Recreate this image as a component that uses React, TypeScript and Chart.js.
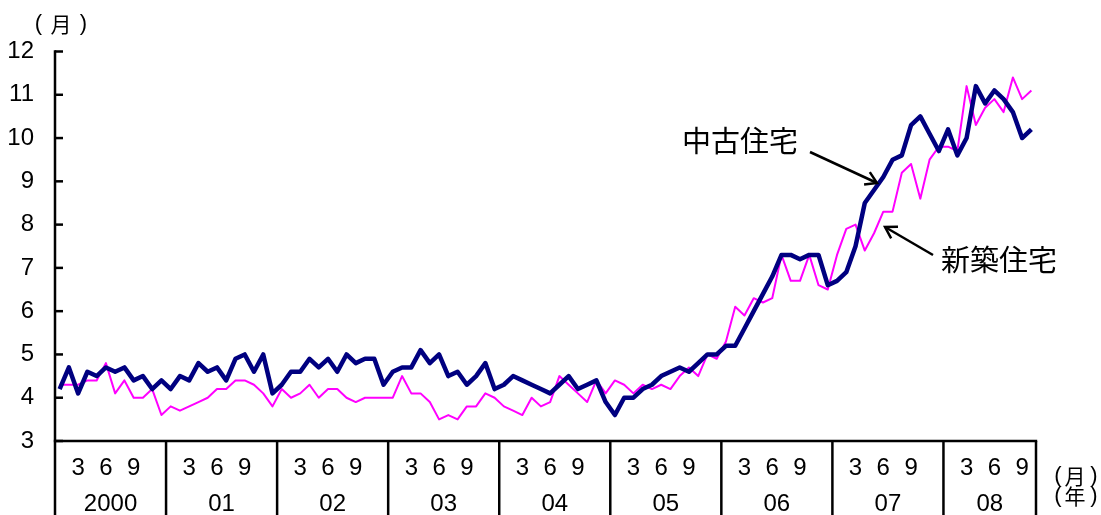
import React, { useEffect, useRef } from "react";
import { Chart, registerables } from "chart.js";

Chart.register(...registerables);

// ---- categories ----
const years = ["2000", "01", "02", "03", "04", "05", "06", "07", "08"];
const fullYears = [2000, 2001, 2002, 2003, 2004, 2005, 2006, 2007, 2008];
const monthsPerYear = [12, 12, 12, 12, 12, 12, 12, 12, 10];
const monthTickLabels = ["3", "6", "9"];
const yTicks = [3, 4, 5, 6, 7, 8, 9, 10, 11, 12];

const categories: string[] = [];
fullYears.forEach((yr, k) => {
  for (let m = 1; m <= monthsPerYear[k]; m++) categories.push(`${yr}-${m}`);
});

// ---- series (months) ----
// 中古住宅
const usedHomes = [
  4.2, 4.7, 4.1, 4.6, 4.5, 4.7, 4.6, 4.7, 4.4, 4.5, 4.2, 4.4,
  4.2, 4.5, 4.4, 4.8, 4.6, 4.7, 4.4, 4.9, 5.0, 4.6, 5.0, 4.1,
  4.3, 4.6, 4.6, 4.9, 4.7, 4.9, 4.6, 5.0, 4.8, 4.9, 4.9, 4.3,
  4.6, 4.7, 4.7, 5.1, 4.8, 5.0, 4.5, 4.6, 4.3, 4.5, 4.8, 4.2,
  4.3, 4.5, 4.4, 4.3, 4.2, 4.1, 4.3, 4.5, 4.2, 4.3, 4.4, 3.9,
  3.6, 4.0, 4.0, 4.2, 4.3, 4.5, 4.6, 4.7, 4.6, 4.8, 5.0, 5.0,
  5.2, 5.2, 5.6, 6.0, 6.4, 6.8, 7.3, 7.3, 7.2, 7.3, 7.3, 6.6,
  6.7, 6.9, 7.5, 8.5, 8.8, 9.1, 9.5, 9.6, 10.3, 10.5, 10.1, 9.7,
  10.2, 9.6, 10.0, 11.2, 10.8, 11.1, 10.9, 10.6, 10.0, 10.2,
];
// 新築住宅
const newHomes = [
  4.3, 4.3, 4.3, 4.4, 4.4, 4.8, 4.1, 4.4, 4.0, 4.0, 4.2, 3.6,
  3.8, 3.7, 3.8, 3.9, 4.0, 4.2, 4.2, 4.4, 4.4, 4.3, 4.1, 3.8,
  4.2, 4.0, 4.1, 4.3, 4.0, 4.2, 4.2, 4.0, 3.9, 4.0, 4.0, 4.0,
  4.0, 4.5, 4.1, 4.1, 3.9, 3.5, 3.6, 3.5, 3.8, 3.8, 4.1, 4.0,
  3.8, 3.7, 3.6, 4.0, 3.8, 3.9, 4.5, 4.3, 4.1, 3.9, 4.4, 4.1,
  4.4, 4.3, 4.1, 4.3, 4.2, 4.3, 4.2, 4.5, 4.7, 4.5, 5.0, 4.9,
  5.3, 6.1, 5.9, 6.3, 6.2, 6.3, 7.3, 6.7, 6.7, 7.3, 6.6, 6.5,
  7.3, 7.9, 8.0, 7.4, 7.8, 8.3, 8.3, 9.2, 9.4, 8.6, 9.5, 9.8,
  9.8, 9.7, 11.2, 10.3, 10.7, 10.9, 10.6, 11.4, 10.9, 11.1,
];

const LATIN = "'Liberation Sans', Arial, 'Noto Sans CJK JP', sans-serif";
const CJK = "'Noto Sans CJK JP', 'Liberation Sans', sans-serif";

function drawArrow(ctx: CanvasRenderingContext2D, x1: number, y1: number, x2: number, y2: number) {
  ctx.beginPath();
  ctx.moveTo(x1, y1);
  ctx.lineTo(x2, y2);
  ctx.stroke();
  const a = Math.atan2(y2 - y1, x2 - x1);
  const len = 13;
  const spread = 0.55;
  ctx.beginPath();
  ctx.moveTo(x2 - len * Math.cos(a - spread), y2 - len * Math.sin(a - spread));
  ctx.lineTo(x2, y2);
  ctx.lineTo(x2 - len * Math.cos(a + spread), y2 - len * Math.sin(a + spread));
  ctx.stroke();
}

const tablePlugin = {
  id: "tableAxis",
  afterDraw(chart: any) {
    const { ctx, chartArea, scales } = chart;
    const xs = scales.x;
    const ys = scales.y;
    const L = chartArea.left;
    const R = chartArea.right;
    const B = chartArea.bottom;
    const H = chart.height;
    ctx.save();
    ctx.strokeStyle = "#000";
    ctx.fillStyle = "#000";
    ctx.lineWidth = 2.5;
    ctx.lineCap = "butt";

    // y axis line extended into the table
    ctx.beginPath();
    ctx.moveTo(L, ys.getPixelForValue(12) - 1.2);
    ctx.lineTo(L, H);
    ctx.stroke();
    // inward tick marks
    yTicks.forEach((v) => {
      const py = ys.getPixelForValue(v);
      ctx.beginPath();
      ctx.moveTo(L, py);
      ctx.lineTo(L + 8, py);
      ctx.stroke();
    });
    // x axis line
    ctx.beginPath();
    ctx.moveTo(L - 1.2, B);
    ctx.lineTo(R + 1.2, B);
    ctx.stroke();

    const half = (xs.getPixelForValue(1) - xs.getPixelForValue(0)) / 2;
    let idx = 0;
    ctx.textAlign = "center";
    ctx.textBaseline = "middle";
    years.forEach((yr, k) => {
      const n = monthsPerYear[k];
      const start = xs.getPixelForValue(idx) - half;
      const end = xs.getPixelForValue(idx + n - 1) + half;
      ctx.beginPath();
      ctx.moveTo(end, B);
      ctx.lineTo(end, H);
      ctx.stroke();
      ctx.font = `24px ${LATIN}`;
      monthTickLabels.forEach((m) => {
        const mi = Number(m) - 1;
        if (mi < n) ctx.fillText(m, xs.getPixelForValue(idx + mi), B + 27);
      });
      ctx.fillText(yr, (start + end) / 2, B + 63);
      idx += n;
    });

    // unit labels
    const unit = (cx: number[], cy: number, mid: string) => {
      ctx.font = `22px ${LATIN}`;
      ctx.fillText("(", cx[0], cy);
      ctx.fillText(")", cx[2], cy);
      ctx.font = `21px ${CJK}`;
      ctx.fillText(mid, cx[1], cy);
    };
    unit([38.5, 61, 83.5], 24, "月");
    unit([1058, 1075, 1094], 476, "月");
    unit([1058, 1075, 1094], 496, "年");

    // annotations
    ctx.font = `29px ${CJK}`;
    ctx.textAlign = "left";
    ctx.fillText("中古住宅", 682, 141);
    ctx.fillText("新築住宅", 941, 260);
    ctx.lineWidth = 2.5;
    drawArrow(ctx, 810, 152, 877, 183);
    drawArrow(ctx, 933, 255, 885, 227);
    ctx.restore();
  },
};

export default function App() {
  const ref = useRef<HTMLCanvasElement | null>(null);
  useEffect(() => {
    if (!ref.current) return;
    const chart = new Chart(ref.current, {
      type: "line",
      data: {
        labels: categories,
        datasets: [
          {
            label: "中古住宅",
            data: usedHomes,
            borderColor: "#000080",
            borderWidth: 4.5,
            pointRadius: 0,
            tension: 0,
            borderJoinStyle: "round",
            fill: false,
          },
          {
            label: "新築住宅",
            data: newHomes,
            borderColor: "#FF00FF",
            borderWidth: 2,
            pointRadius: 0,
            tension: 0,
            borderJoinStyle: "round",
            fill: false,
          },
        ],
      },
      options: {
        responsive: false,
        animation: false,
        devicePixelRatio: 1,
        layout: { padding: { left: 0, right: 65, top: 51.5, bottom: 74 } },
        plugins: {
          legend: { display: false },
          tooltip: { enabled: false },
          title: { display: false },
        },
        scales: {
          x: { type: "category", display: false, offset: true },
          y: {
            min: 3,
            max: 12,
            border: { display: false },
            grid: { display: false },
            ticks: {
              stepSize: 1,
              color: "#000",
              padding: 13,
              font: { family: LATIN, size: 24 },
            },
            afterFit: (s: any) => {
              s.width = 55;
            },
          },
        },
      },
      plugins: [tablePlugin],
    } as any);
    return () => chart.destroy();
  }, []);
  return (
    <div style={{ position: "absolute", left: 0, top: 0, width: 1101, height: 515, background: "#fff" }}>
      <canvas ref={ref} width={1101} height={515} style={{ display: "block", width: 1101, height: 515 }} />
    </div>
  );
}
